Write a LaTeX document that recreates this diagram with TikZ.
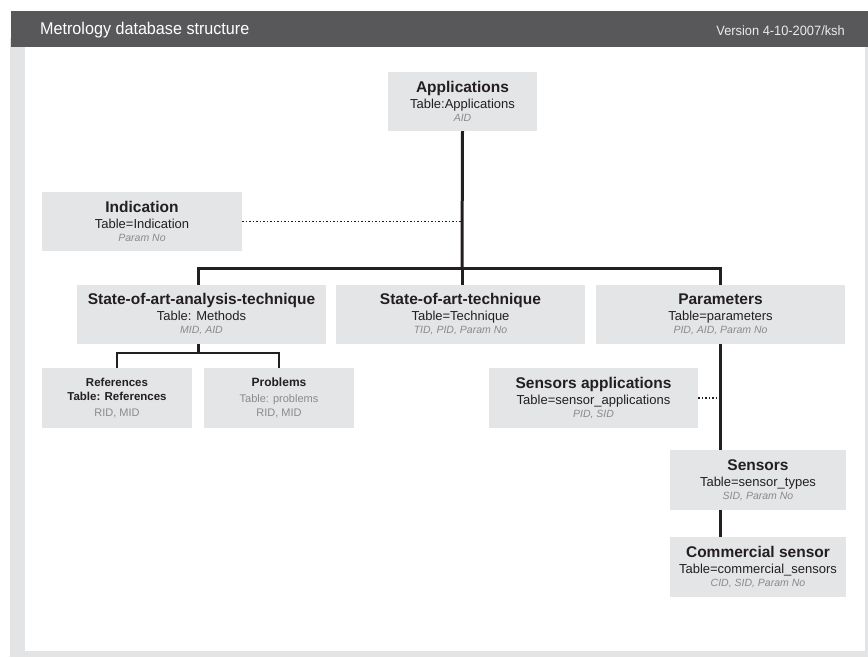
\documentclass[tikz,border=0pt]{standalone}
\usepackage{fontspec}
\setmainfont{Liberation Sans}
\newfontfamily\headfont[FakeStretch=0.95]{Liberation Sans}
\definecolor{head}{HTML}{58585A}
\definecolor{frame}{HTML}{E3E4E6}
\definecolor{boxfill}{HTML}{E4E5E7}
\definecolor{keygray}{HTML}{8A8A8C}
\definecolor{ink}{HTML}{231F20}
\tikzset{
  tbl/.style={fill=boxfill, align=center, inner sep=0pt, text=ink,
    minimum height=59pt, font=\fontsize{13}{14}\selectfont},
  main/.style={line width=3pt, draw=ink},
  sub/.style={line width=1.6pt, draw=ink},
  loose/.style={line width=1.3pt, draw=ink, dash pattern=on 1.3pt off 2.2pt}
}
\newcommand{\ttl}[1]{{\fontsize{15.5}{16}\selectfont\bfseries #1}}
\newcommand{\keys}[1]{{\fontsize{10.5}{11}\selectfont\itshape\color{keygray}#1}}

\begin{document}
\begin{tikzpicture}[x=1pt,y=-1pt]
\useasboundingbox (0,0) rectangle (868,657);
% frame and header
\fill[frame] (10,38) rectangle (868,657);
\fill[white] (25,47) rectangle (865,651);
\fill[head] (11,11) rectangle (868,47);
\node[anchor=base west, text=white, inner sep=0pt, font=\headfont\fontsize{17}{18}\selectfont] (title) at (40,34.5) {Metrology database structure};
\node[anchor=base east, text=white!88!head, inner sep=0pt, font=\headfont\fontsize{13.5}{14}\selectfont] (version) at (845,35) {Version 4-10-2007/ksh};

% tables
\node[tbl, minimum width=149pt] (app) at (462.5,101.5) {\ttl{Applications}\\[2pt] Table:Applications\\[-1pt] \keys{AID}};
\node[tbl, minimum width=200pt] (ind) at (142,221.5) {\ttl{Indication}\\[2pt] Table=Indication\\[-1pt] \keys{Param No}};
\node[tbl, minimum width=249pt] (meth) at (201.5,314.5) {\ttl{State-of-art-analysis-technique}\\[2pt] Table: Methods\\[-1pt] \keys{MID, AID}};
\node[tbl, minimum width=249pt] (tech) at (460.5,314.5) {\ttl{State-of-art-technique}\\[2pt] Table=Technique\\[-1pt] \keys{TID, PID, Param No}};
\node[tbl, minimum width=249pt] (par) at (720.5,314.5) {\ttl{Parameters}\\[2pt] Table=parameters\\[-1pt] \keys{PID, AID, Param No}};
\node[tbl, minimum width=150pt, minimum height=60pt, font=\fontsize{11.5}{14}\selectfont] (ref) at (117,398)
  {\bfseries References\\ \bfseries Table: References\\[2pt] {\fontsize{11}{13}\selectfont\color{keygray}RID, MID}};
\node[tbl, minimum width=150pt, minimum height=60pt, font=\fontsize{11}{14}\selectfont] (prob) at (279,398)
  {{\fontsize{12}{14}\selectfont\bfseries Problems}\\[2pt] \color{keygray}Table: problems\\ \color{keygray}RID, MID};
\node[tbl, minimum width=209pt, minimum height=60pt] (sapp) at (593.5,398) {\ttl{Sensors applications}\\[2pt] Table=sensor\_applications\\[-1pt] \keys{PID, SID}};
\node[tbl, minimum width=176pt, minimum height=60pt] (sens) at (758,480) {\ttl{Sensors}\\[2pt] Table=sensor\_types\\[-1pt] \keys{SID, Param No}};
\node[tbl, minimum width=176pt, minimum height=60pt] (com) at (758,567) {\ttl{Commercial sensor}\\[2pt] Table=commercial\_sensors\\[-1pt] \keys{CID, SID, Param No}};

% links
\coordinate (bus) at (462,268);
\coordinate (busl) at (198,268);
\coordinate (busr) at (720,268);
\coordinate (sb) at (198,353);
\draw[main] (app.south) -- (bus);
\draw[main] (busl |- meth.north) -- (busl) -- (busr) -- (busr |- par.north);
\draw[main] (bus) -- (bus |- tech.north);
\draw[main] (sb |- meth.south) -- (sb);
\draw[sub] (ref.north) -- ++(0,-15) -| (prob.north);
\draw[main] (busr |- par.south) -- (busr |- sens.north);
\draw[main] (busr |- sens.south) -- (busr |- com.north);
\draw[loose] (ind.east) -- (ind.east -| bus);
\draw[loose] (sapp.east) -- (sapp.east -| busr);
\end{tikzpicture}
\end{document}
